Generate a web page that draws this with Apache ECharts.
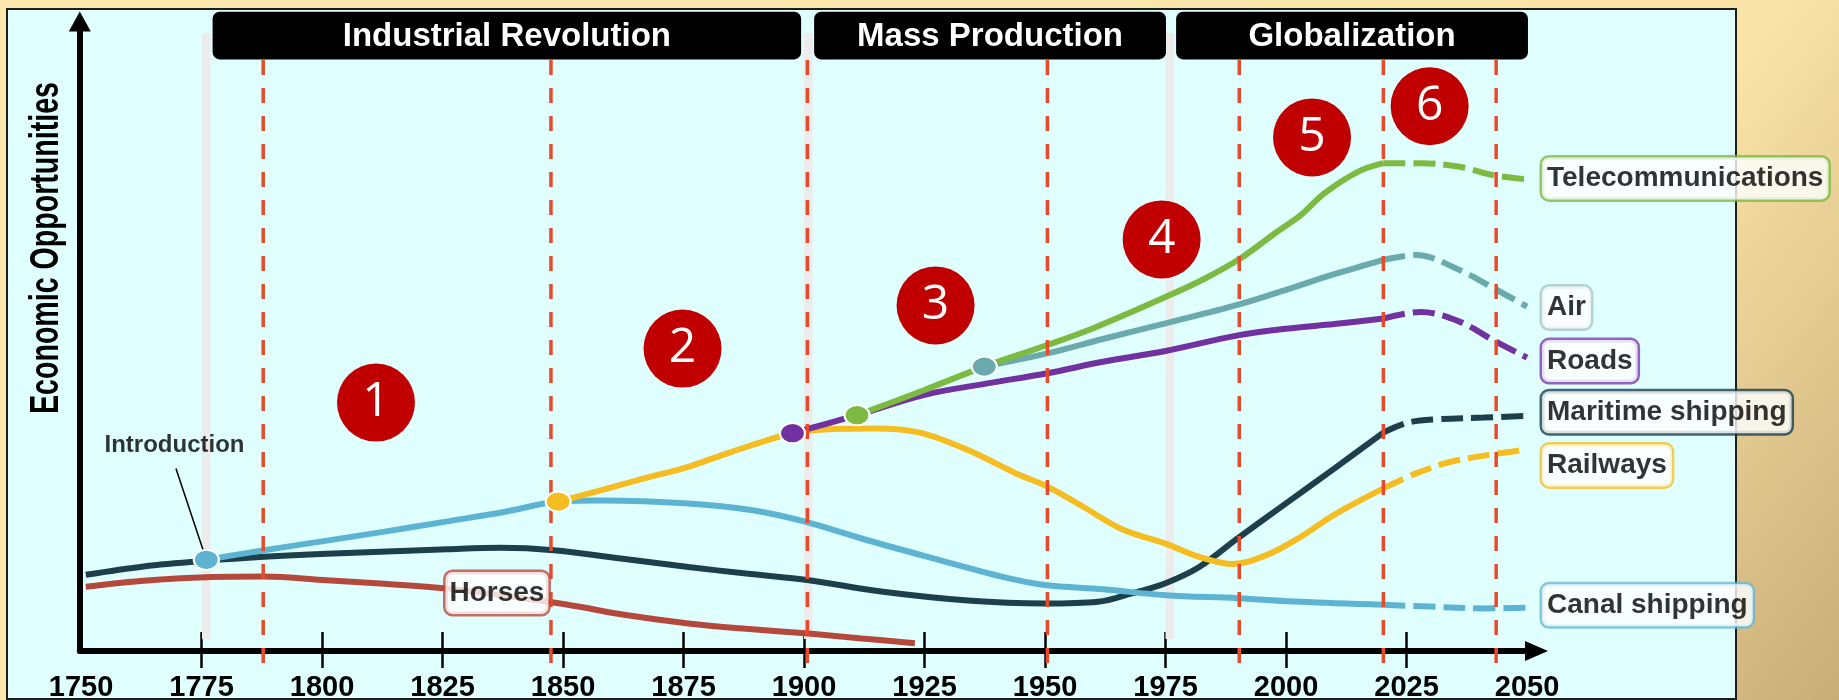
<!DOCTYPE html>
<html>
<head>
<meta charset="utf-8">
<title>Transport networks and economic opportunities, 1750–2050</title>
<script src="https://cdn.jsdelivr.net/npm/echarts@6.0.0/dist/echarts.min.js"></script>
<style>
  html, body { margin: 0; padding: 0; background: #f6e0a3; }
  #chart { width: 1839px; height: 700px; }
</style>
</head>
<body>
<div id="chart"></div>
<script>
// ---- Data ------------------------------------------------------------------
const tickYears = [1750, 1775, 1800, 1825, 1850, 1875, 1900, 1925, 1950, 1975, 2000, 2025, 2050];

const eraNames = ['Industrial Revolution', 'Mass Production', 'Globalization'];
const eraStart = [1777.3, 1902.1, 1977.2];
const eraEnd   = [1899.4, 1975.1, 2050.2];
const eraBoundaries = [1776, 1900.9, 1975.9];

const waveDividers = [1787.8, 1847.5, 1900.7, 1950.5, 1990.3, 2020.2, 2043.6];

const phaseNumbers = ['1', '2', '3', '4', '5', '6'];
const phaseYears   = [1811.2, 1874.8, 1927.3, 1974.2, 2005.4, 2029.8];
const phaseLevels  = [41.4, 50.4, 57.6, 68.6, 85.6, 90.8];

// [year, economic opportunity index]
const horses = [[1751, 10.7], [1763, 11.7], [1776, 12.3], [1788, 12.4], [1801, 11.8], [1813, 11.2],
  [1826, 10.4], [1838, 9.2], [1851, 7.7], [1863, 6.0], [1876, 4.6], [1888, 3.7], [1901, 2.9],
  [1912, 2.1], [1923, 1.3]];

const maritime = [[1751, 12.7], [1763, 14.1], [1776, 15.05], [1788, 15.7], [1801, 16.2], [1826, 16.95],
  [1837, 17.2], [1848, 16.8], [1862, 15.4], [1876, 14.0], [1888, 12.9], [1901, 11.8], [1916, 9.9],
  [1934, 8.4], [1950, 7.9], [1961, 8.2], [1968, 9.6], [1975, 11.3], [1982, 14.0], [1990, 18.8],
  [2000, 24.6], [2010, 30.4], [2020.2, 36.4]];
const maritimeOutlook = [[2020.2, 36.4], [2025, 38.0], [2031, 38.6], [2041, 38.9], [2050, 39.2]];

const canal = [[1776, 15.2], [1788, 16.8], [1801, 18.4], [1813, 19.9], [1826, 21.6], [1838, 23.2],
  [1849, 24.9], [1858, 25.1], [1876, 24.6], [1889, 23.5], [1900, 21.6], [1913, 18.5], [1927, 15.4],
  [1941, 12.4], [1950, 11.0], [1962, 10.3], [1975, 9.3], [1990, 8.8], [2003, 8.2], [2020.2, 7.7]];
const canalOutlook = [[2020.2, 7.7], [2030, 7.4], [2041, 7.1], [2050, 7.2]];

const railways = [[1849, 24.9], [1858, 26.8], [1867, 28.8], [1876, 30.7], [1885, 33.2], [1897.6, 36.3],
  [1906, 37.0], [1915, 37.1], [1924, 36.4], [1934, 33.5], [1944, 29.6], [1950.5, 27.4], [1958, 24.0],
  [1966, 20.3], [1975, 17.9], [1982, 15.7], [1989, 14.5], [1996, 16.0], [2003, 19.0], [2010, 22.7],
  [2020.2, 27.1]];
const railwaysOutlook = [[2020.2, 27.1], [2027, 29.6], [2034, 31.5], [2043, 32.8], [2050, 33.6]];

const roads = [[1897.6, 36.3], [1911, 39.3], [1925, 42.7], [1938, 44.6], [1950.5, 46.3], [1962, 48.2],
  [1975, 50.0], [1990, 52.6], [2000, 53.7], [2010, 54.5], [2020.2, 55.4]];
const roadsOutlook = [[2020.2, 55.4], [2028, 56.5], [2036, 54.9], [2043, 51.8], [2050, 48.9]];

const telecom = [[1911, 39.3], [1925, 43.5], [1937.4, 47.4], [1950.5, 51.0], [1960, 53.8], [1975, 59.0],
  [1983, 62.0], [1990.5, 65.4], [1998, 69.8], [2003, 72.6], [2008, 76.3], [2015, 79.9], [2020.2, 81.3]];
const telecomOutlook = [[2020.2, 81.3], [2028, 81.3], [2036, 80.7], [2043, 79.3], [2050, 78.6]];

const air = [[1937.4, 47.4], [1950.5, 49.6], [1962, 52.0], [1975, 54.6], [1990.5, 57.8], [2000, 60.2],
  [2010, 62.8], [2020.2, 65.2]];
const airOutlook = [[2020.2, 65.2], [2027, 66.0], [2036, 63.5], [2043, 60.5], [2050, 57.4]];

// ---- Styling -----------------------------------------------------------------
const FONT = '"Liberation Sans", Arial, Helvetica, sans-serif';
const COLORS = {
  horses: '#b5483c', maritime: '#1c3f4b', canal: '#5db4d2', railways: '#f5bd22',
  roads: '#7131a0', air: '#6aa9ac', telecom: '#7cba41'
};
const X_MIN = 1749.75, X_MAX = 2051.97;
const Y_MIN = 0, Y_MAX = 104.9;

function textWidth(text, font) {
  const ctx = document.createElement('canvas').getContext('2d');
  ctx.font = font;
  return ctx.measureText(text).width;
}

function curve(name, data, color, dashed) {
  return {
    type: 'line', name, data, silent: true, z: 2,
    smooth: 0.35, symbol: 'none', showSymbol: false,
    lineStyle: { color, width: 6, type: dashed ? [22, 8] : 'solid', cap: 'butt' }
  };
}

const transports = [
  { name: 'Horses', past: horses, color: COLORS.horses },
  { name: 'Maritime shipping', past: maritime, outlook: maritimeOutlook, color: COLORS.maritime, tagBorder: '#1c3f4b', tagShift: -3.5 },
  { name: 'Canal shipping', past: canal, outlook: canalOutlook, color: COLORS.canal, tagBorder: '#6ab9d6', tagShift: -2.5 },
  { name: 'Railways', past: railways, outlook: railwaysOutlook, color: COLORS.railways, tagBorder: '#f3c12c', tagShift: 16 },
  { name: 'Roads', past: roads, outlook: roadsOutlook, color: COLORS.roads, tagBorder: '#7a3fb0', tagShift: 3.5 },
  { name: 'Air', past: air, outlook: airOutlook, color: COLORS.air, tagBorder: '#a9c7c9', tagShift: 1 },
  { name: 'Telecommunications', past: telecom, outlook: telecomOutlook, color: COLORS.telecom, tagBorder: '#7cba41', tagShift: -1 }
];

const curveSeries = [];
transports.forEach(t => {
  curveSeries.push(curve(t.name, t.past, t.color, false));
  if (t.outlook) curveSeries.push(curve(t.name, t.outlook, t.color, true));
});

// the point where each new mode branches off an older one
const branchPoints = [
  { value: canal[0], itemStyle: { color: COLORS.canal } },
  { value: railways[0], itemStyle: { color: COLORS.railways } },
  { value: roads[0], itemStyle: { color: COLORS.roads } },
  { value: telecom[0], itemStyle: { color: COLORS.telecom } },
  { value: air[0], itemStyle: { color: COLORS.air } }
];

const outlookTags = transports.filter(t => t.outlook).map(t => ({
  name: t.name,
  value: t.outlook[t.outlook.length - 1],
  label: { borderColor: t.tagBorder, offset: [0, t.tagShift] }
}));

const titleText = 'Economic Opportunities';
const titleFont = 'bold 40px ' + FONT;
const titleScale = 332 / textWidth(titleText, titleFont);

const option = {
  animation: false,
  backgroundColor: {
    type: 'linear', x: 0.5, y: 0, x2: 1, y2: 1,
    colorStops: [
      { offset: 0, color: '#fde9ae' },
      { offset: 0.6, color: '#f9e3a6' },
      { offset: 1, color: '#c9ad77' }
    ]
  },
  textStyle: { fontFamily: FONT },
  grid: {
    left: 79.8, right: 1839 - 1536.5, top: 651 - Y_MAX * 6, bottom: 49,
    containLabel: false, outerBoundsMode: 'none'
  },
  graphic: [
    {
      type: 'rect', z: -10, silent: true,
      shape: { x: 7, y: 9, width: 1729, height: 690 },
      style: { fill: '#e0ffff', stroke: '#1d1d1d', lineWidth: 2 }
    },
    {
      type: 'text', z: 10, silent: true,
      x: 47, y: 248, rotation: Math.PI / 2, scaleX: titleScale, scaleY: 1,
      style: { text: titleText, font: titleFont, fill: '#000', align: 'center', verticalAlign: 'middle' }
    }
  ],
  xAxis: [
    {
      type: 'value', min: X_MIN, max: X_MAX,
      axisLine: {
        show: true, onZero: false,
        symbol: ['none', 'triangle'], symbolSize: [20, 23],
        lineStyle: { color: '#000', width: 6 }
      },
      axisTick: {
        show: true, inside: false, length: 17, customValues: tickYears.slice(1, -1),
        lineStyle: { color: '#000', width: 2.5 }
      },
      axisLabel: {
        show: true, customValues: tickYears, margin: 22, hideOverlap: false,
        color: '#000', fontSize: 29, fontWeight: 'bold', fontFamily: FONT,
        formatter: v => String(Math.round(v))
      },
      splitLine: { show: false }
    },
    {
      // upper half of the tick marks, which cross the axis line
      type: 'value', min: X_MIN, max: X_MAX, position: 'bottom', offset: 0,
      axisLine: { show: false, onZero: false },
      axisTick: {
        show: true, inside: true, length: 19, customValues: tickYears.slice(1, -1),
        lineStyle: { color: '#000', width: 2.5 }
      },
      axisLabel: { show: false },
      splitLine: { show: false }
    }
  ],
  yAxis: {
    type: 'value', min: Y_MIN, max: Y_MAX,
    axisLine: {
      show: true, onZero: false,
      symbol: ['none', 'triangle'], symbolSize: [22, 20],
      lineStyle: { color: '#000', width: 6 }
    },
    axisTick: { show: false }, axisLabel: { show: false }, splitLine: { show: false }
  },
  series: [
    // light grey stripes at the start of each era
    {
      type: 'custom', z: 1, silent: true, clip: false,
      data: eraBoundaries.map(y => [y, 0]),
      renderItem(params, api) {
        const y = api.value(0);
        const a = api.coord([y - 0.9, 103]);
        const b = api.coord([y + 0.9, 2]);
        return {
          type: 'rect',
          shape: { x: a[0], y: a[1], width: b[0] - a[0], height: b[1] - a[1] },
          style: { fill: '#ececec' }
        };
      }
    },
    // era header bars
    {
      type: 'custom', z: 3, silent: true, clip: false,
      data: eraNames.map((n, i) => [eraStart[i], eraEnd[i], 0]),
      encode: { x: [0, 1], y: 2 },
      renderItem(params, api) {
        const a = api.coord([api.value(0), 106.55]);
        const b = api.coord([api.value(1), 98.6]);
        return {
          type: 'group',
          children: [
            {
              type: 'rect',
              shape: { x: a[0], y: a[1], width: b[0] - a[0], height: b[1] - a[1], r: 7 },
              style: { fill: '#000' }
            },
            {
              type: 'text',
              x: (a[0] + b[0]) / 2, y: (a[1] + b[1]) / 2 + 1.5,
              style: {
                text: eraNames[params.dataIndex], fill: '#fff',
                font: 'bold 33px ' + FONT, align: 'center', verticalAlign: 'middle'
              }
            }
          ]
        };
      }
    },
    ...curveSeries,
    // red dashed dividers between the long waves, reaching just below the time axis
    {
      type: 'custom', z: 4, silent: true, clip: false,
      data: waveDividers.map(y => [y, 0]),
      renderItem(params, api) {
        const a = api.coord([api.value(0), 98.5]);
        const b = api.coord([api.value(0), -2.5]);
        return {
          type: 'line',
          shape: { x1: a[0], y1: a[1], x2: b[0], y2: b[1] },
          style: { stroke: '#e84a2b', lineWidth: 3.5, lineDash: [15, 13] }
        };
      }
    },
    // leader line of the "Introduction" note
    {
      type: 'line', z: 5, silent: true, symbol: 'none',
      data: [[1769.7, 30.4], canal[0]],
      lineStyle: { color: '#000', width: 1.5 }
    },
    // branch points
    {
      type: 'scatter', z: 6, silent: true, symbol: 'circle', symbolSize: [25, 20],
      itemStyle: { borderColor: '#fff', borderWidth: 2, opacity: 1 },
      data: branchPoints
    },
    // numbered phases
    {
      type: 'scatter', z: 6, silent: true, clip: false, symbol: 'circle', symbolSize: 78,
      itemStyle: { color: '#c00000', opacity: 1 },
      data: phaseYears.map((y, i) => [y, phaseLevels[i]]),
      label: {
        show: true, position: 'inside', color: '#fff', textBorderWidth: 0,
        fontSize: 48, fontFamily: '"Open Sans", "Noto Sans", sans-serif',
        formatter: p => phaseNumbers[p.dataIndex]
      }
    },
    // notes inside the plot
    {
      type: 'scatter', z: 7, silent: true, clip: false, symbolSize: 0,
      label: {
        show: true, position: 'inside', color: '#000', textBorderWidth: 0,
        fontWeight: 'bold', fontFamily: FONT
      },
      data: [
        { value: [1769.4, 34.3], label: { formatter: 'Introduction', fontSize: 24 } },
        {
          value: [1836.3, 9.67],
          label: {
            formatter: 'Horses', fontSize: 28, lineHeight: 30, padding: [6, 4, 6, 4],
            backgroundColor: '#fff', borderColor: '#b94b3f', borderWidth: 2.5, borderRadius: 7
          }
        }
      ]
    },
    // name tags at the end of the 2050 outlook
    {
      type: 'scatter', z: 7, silent: true, clip: false, symbolSize: 0,
      label: {
        show: true, position: 'right', distance: 15, formatter: '{b}', textBorderWidth: 0,
        color: '#000', fontSize: 28, fontWeight: 'bold', fontFamily: FONT, lineHeight: 30,
        padding: [6, 5, 6, 5], backgroundColor: '#fff', borderWidth: 2.5, borderRadius: 7
      },
      data: outlookTags
    }
  ]
};

const chart = echarts.init(document.getElementById('chart'), null, { renderer: 'canvas' });
chart.setOption(option);
</script>
</body>
</html>
